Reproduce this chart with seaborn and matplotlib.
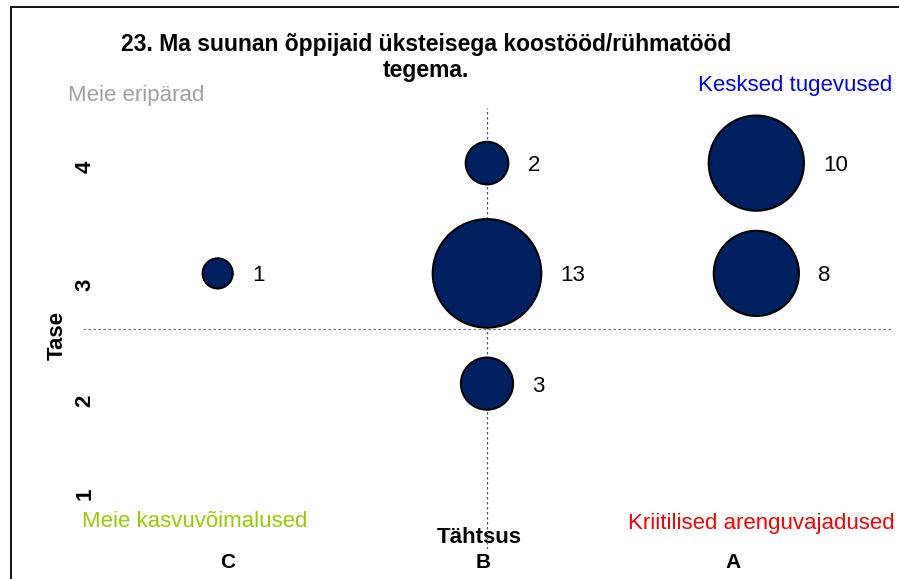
import numpy as np
import pandas as pd
import matplotlib.pyplot as plt
import seaborn as sns
from matplotlib.patches import Rectangle

# data
tahtsus = ["C", "B", "B", "B", "A", "A"]
tase = [3, 4, 3, 2, 4, 3]
vastajad = [1, 2, 13, 3, 10, 8]
x_categories = ["C", "B", "A"]
y_labels = ["1", "2", "3", "4"]

title = "23. Ma suunan õppijaid üksteisega koostööd/rühmatööd\ntegema."


def plot_data():
    sns.set_style("white")
    plt.rcParams["font.family"] = ["Liberation Sans", "DejaVu Sans"]
    plt.rcParams.update({"text.color": "black", "axes.labelcolor": "black",
                         "xtick.color": "black", "ytick.color": "black"})

    df = pd.DataFrame({"tahtsus": tahtsus, "tase": tase, "n": vastajad})
    pos = {c: i + 1 for i, c in enumerate(x_categories)}
    df["x"] = df["tahtsus"].map(pos)

    fig = plt.figure(figsize=(8.99, 5.79), dpi=100)
    ax = fig.add_axes([83 / 899, 1 - 549 / 579, 808 / 899, 441 / 579])

    # quadrant lines
    ax.axvline(2, color="#555555", lw=0.9, ls=(0, (2, 2)), zorder=1)
    ax.axhline(2.5, color="#777777", lw=0.9, ls=(0, (2, 2)), zorder=1)

    k = 470  # area per respondent (pt^2)
    sns.scatterplot(data=df, x="x", y="tase", size="n", sizes=(k * 1, k * 13),
                    size_norm=(1, 13), color="#002060", edgecolor="black",
                    linewidth=1.5, legend=False, ax=ax, zorder=3)

    for _, r in df.iterrows():
        rad = np.sqrt(k * r["n"]) / 2
        ax.annotate(str(r["n"]), (r["x"], r["tase"]), xytext=(rad + 14, 0),
                    textcoords="offset points", ha="left", va="center_baseline",
                    fontsize=16, color="black")

    ax.set_xlim(0.5, 3.5)
    ax.set_ylim(0.5, 4.5)
    sns.despine(ax=ax, left=True, bottom=True)

    ax.set_xticks([1.038, 1.985, 2.914])
    ax.set_xticklabels(x_categories, fontsize=15, fontweight="bold")
    ax.set_yticks([1.0, 1.84, 2.9, 3.965])
    ax.set_yticklabels(y_labels, fontsize=16, fontweight="bold", rotation=90)
    for lab in ax.get_yticklabels():
        lab.set_ha("center")
        lab.set_va("center")
    ax.tick_params(axis="x", length=0, pad=3)
    ax.tick_params(axis="y", length=0, pad=-1.5)

    ax.set_xlabel("Tähtsus", fontsize=16, fontweight="bold")
    ax.xaxis.label.set_va("center")
    ax.xaxis.set_label_coords(0.491, 0.027)
    ax.set_ylabel("Tase", fontsize=16, fontweight="bold")
    ax.yaxis.label.set_va("center")
    ax.yaxis.set_label_coords(-0.032, 0.485)

    fig.text(426 / 899, 1 - 57.5 / 579, title, ha="center", va="center",
             fontsize=16.5, fontweight="bold", multialignment="center")

    fig.text(68 / 899, 1 - 101 / 579, "Meie eripärad", color="#a0a0a0",
             fontsize=16, ha="left", va="baseline")
    fig.text(892 / 899, 1 - 90.5 / 579, "Kesksed tugevused", color="#0000ff",
             fontsize=16, ha="right", va="baseline")
    fig.text(82 / 899, 1 - 527 / 579, "Meie kasvuvõimalused", color="#99cc00",
             fontsize=16, ha="left", va="baseline")
    fig.text(895 / 899, 1 - 529 / 579, "Kriitilised arenguvajadused", color="#ff0000",
             fontsize=16, ha="right", va="baseline")

    # outer chart border (cut off on right and bottom)
    fig.patches.append(Rectangle((11 / 899, -0.5), 2, 0.5 + 1 - 7 / 579,
                                 transform=fig.transFigure, fill=False,
                                 edgecolor="black", lw=1.3))

    fig.savefig("out.png", dpi=100)


if __name__ == "__main__":
    plot_data()
